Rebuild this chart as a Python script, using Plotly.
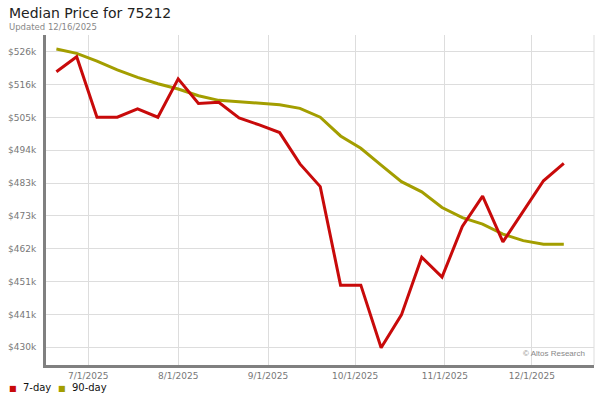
import plotly.graph_objects as go

# weekly points
dates = ["2025-06-20", "2025-06-27", "2025-07-04", "2025-07-11", "2025-07-18", "2025-07-25",
         "2025-08-01", "2025-08-08", "2025-08-15", "2025-08-22", "2025-08-29", "2025-09-05",
         "2025-09-12", "2025-09-19", "2025-09-26", "2025-10-03", "2025-10-10", "2025-10-17",
         "2025-10-24", "2025-10-31", "2025-11-07", "2025-11-14", "2025-11-21", "2025-11-28",
         "2025-12-05", "2025-12-12"]

price_7day = [519700, 524600, 504900, 504900, 507600, 504900, 517400, 509400, 509800, 504700,
              502400, 499900, 489700, 482300, 450200, 450200, 429800, 440500, 459300, 452800,
              469300, 479200, 464300, 474100, 484200, 489900]

price_90day = [527100, 525700, 523200, 520300, 517900, 515800, 514100, 511900, 510400, 510000,
               509500, 509000, 507800, 504900, 498800, 494800, 489300, 483900, 480600, 475500,
               472200, 470100, 466800, 464700, 463500, 463500]

y_tick_vals = [429950, 440650, 451350, 462050, 472750, 483450, 494150, 504850, 515550, 526250]
y_tick_text = ["$430k", "$441k", "$451k", "$462k", "$473k", "$483k", "$494k", "$505k", "$516k", "$526k"]

x_tick_vals = ["2025-07-01", "2025-08-01", "2025-09-01", "2025-10-01", "2025-11-01", "2025-12-01"]
x_tick_text = ["7/1/2025", "8/1/2025", "9/1/2025", "10/1/2025", "11/1/2025", "12/1/2025"]

RED = "#c80a0a"
OLIVE = "#a39e00"
FONT = "DejaVu Sans"

fig = go.Figure()
fig.add_trace(go.Scatter(x=dates, y=price_90day, mode="lines", name="90-day",
                         line=dict(color=OLIVE, width=3)))
fig.add_trace(go.Scatter(x=dates, y=price_7day, mode="lines", name="7-day",
                         line=dict(color=RED, width=3)))

fig.update_layout(
    width=600, height=400,
    margin=dict(l=46, r=6, t=35, b=35),
    plot_bgcolor="white", paper_bgcolor="white",
    showlegend=False,
    font=dict(family=FONT, size=9, color="#777777"),
    xaxis=dict(
        type="date",
        range=["2025-06-16 10:00", "2025-12-22 10:00"],
        tickvals=x_tick_vals, ticktext=x_tick_text,
        showgrid=True, gridcolor="#dddddd", gridwidth=1,
        showline=True, linecolor="#808080", linewidth=3,
        ticks="",
        tickfont=dict(family=FONT, size=9, color="#777777"),
        mirror=False, zeroline=False,
    ),
    yaxis=dict(
        range=[424180, 531690],
        tickvals=y_tick_vals, ticktext=y_tick_text,
        showgrid=True, gridcolor="#dddddd", gridwidth=1,
        showline=True, linecolor="#808080", linewidth=3,
        ticks="outside", ticklen=5, tickcolor="rgba(0,0,0,0)",
        tickfont=dict(family=FONT, size=9, color="#777777"),
        zeroline=False,
    ),
    shapes=[dict(type="line", xref="paper", yref="paper", x0=1, x1=1, y0=0, y1=1,
                 line=dict(color="#dddddd", width=1))],
)

fig.add_annotation(text="Median Price for 75212", xref="paper", yref="paper",
                   x=-0.0712, y=1.066, xanchor="left", yanchor="middle", showarrow=False,
                   font=dict(family=FONT, size=14, color="#222222"))
fig.add_annotation(text="Updated 12/16/2025", xref="paper", yref="paper",
                   x=-0.0712, y=1.023, xanchor="left", yanchor="middle", showarrow=False,
                   font=dict(family=FONT, size=8.5, color="#888888"))
fig.add_annotation(text="© Altos Research", xref="paper", yref="paper",
                   x=0.987, y=0.034, xanchor="right", yanchor="middle", showarrow=False,
                   font=dict(family="Liberation Sans", size=8, color="#888888"))

# legend drawn as text
fig.add_annotation(text=f"<span style='color:{RED};font-size:8px'>■</span>  7-day",
                   xref="paper", yref="paper", x=-0.0712, y=-0.067,
                   xanchor="left", yanchor="middle", showarrow=False,
                   font=dict(family=FONT, size=10, color="#111111"))
fig.add_annotation(text=f"<span style='color:{OLIVE};font-size:8px'>■</span>  90-day",
                   xref="paper", yref="paper", x=0.0185, y=-0.067,
                   xanchor="left", yanchor="middle", showarrow=False,
                   font=dict(family=FONT, size=10, color="#111111"))

# page body has an 8px default margin; drop it so the figure fills the window
fig.write_html("out.html", config={"displayModeBar": False},
               post_script="document.body.style.margin='0';")
